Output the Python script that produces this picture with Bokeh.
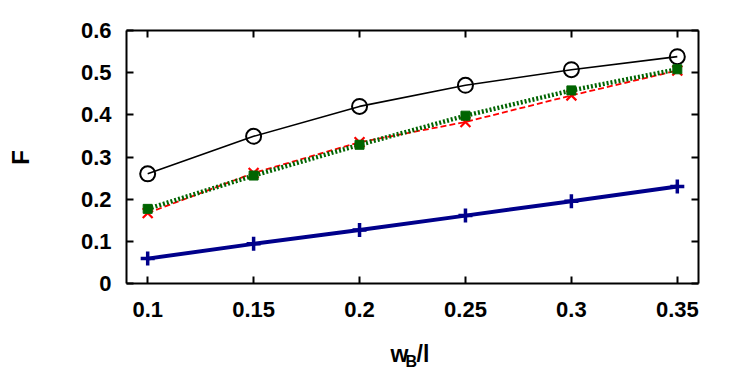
import math
from bokeh.plotting import figure
from bokeh.models import FixedTicker, LinearAxis, Label, Range1d
from bokeh.embed import file_html
from bokeh.resources import INLINE

# ---- data ----
wb = [0.1, 0.15, 0.2, 0.25, 0.3, 0.35]
f_black = [0.260, 0.349, 0.420, 0.470, 0.507, 0.538]
f_red = [0.167, 0.262, 0.335, 0.383, 0.446, 0.505]
f_green = [0.177, 0.256, 0.329, 0.398, 0.458, 0.508]
f_blue = [0.059, 0.094, 0.127, 0.161, 0.195, 0.230]

x_ticks = [0.1, 0.15, 0.2, 0.25, 0.3, 0.35]
x_tick_labels = ["0.1", "0.15", "0.2", "0.25", "0.3", "0.35"]
y_ticks = [0, 0.1, 0.2, 0.3, 0.4, 0.5, 0.6]
y_tick_labels = ["0", "0.1", "0.2", "0.3", "0.4", "0.5", "0.6"]
x_lo, x_hi = 0.09, 0.36
y_lo, y_hi = 0.0, 0.6

FONT = "Liberation Sans"
W, H = 739, 384
# box placement in canvas pixels
BL, BR, BT, BB = 126, 698, 30, 283
sx = (BR - BL) / (x_hi - x_lo)
sy = (BB - BT) / (y_hi - y_lo)

p = figure(width=W, height=H,
           x_range=Range1d(x_lo - BL / sx, x_hi + (W - BR) / sx),
           y_range=Range1d(y_lo - (H - BB) / sy, y_hi + BT / sy),
           output_backend="svg", toolbar_location=None,
           min_border_left=0, min_border_right=0, min_border_top=0, min_border_bottom=0)
p.grid.visible = False
p.outline_line_color = None
p.background_fill_color = "white"
p.border_fill_color = "white"

def style_axis(ax, ticks, labels, bounds, loc):
    ax.ticker = FixedTicker(ticks=ticks)
    ax.major_label_overrides = {t: l for t, l in zip(ticks, labels)}
    ax.bounds = bounds
    ax.fixed_location = loc
    ax.axis_line_color = "black"
    ax.axis_line_width = 2
    ax.major_tick_in = 7
    ax.major_tick_out = 0
    ax.major_tick_line_width = 2
    ax.major_tick_line_color = "black"
    ax.minor_tick_line_color = None
    ax.major_label_text_font = FONT
    ax.major_label_text_font_style = "bold"
    ax.major_label_text_color = "black"
    ax.major_label_text_font_size = "22px"

style_axis(p.xaxis[0], x_ticks, x_tick_labels, (x_lo, x_hi), y_lo)
p.xaxis[0].major_label_standoff = 18
style_axis(p.yaxis[0], y_ticks, y_tick_labels, (y_lo, y_hi), x_lo)
p.yaxis[0].major_label_standoff = 15

top = LinearAxis()
style_axis(top, x_ticks, [""] * len(x_ticks), (x_lo, x_hi), y_hi)
p.add_layout(top, "above")
right = LinearAxis()
style_axis(right, y_ticks, [""] * len(y_ticks), (y_lo, y_hi), x_hi)
p.add_layout(right, "right")

# series
p.line(wb, f_black, line_color="black", line_width=1.6)
p.scatter(wb, f_black, marker="circle", size=15, fill_color=None, line_color="black", line_width=2)

p.line(wb, f_red, line_color="red", line_width=1.8, line_dash="6 3")
p.scatter(wb, f_red, marker="x", size=14, line_color="red", line_width=2.2)

p.line(wb, f_green, line_color="#006400", line_width=4.5, line_dash="2 2")
p.scatter(wb, f_green, marker="square", size=9, fill_color="#006400", line_color="#006400")

p.line(wb, f_blue, line_color="#00008b", line_width=4)
p.scatter(wb, f_blue, marker="cross", size=14, line_color="#00008b", line_width=3.5)

# axis titles (screen units measured from the frame's bottom-left = canvas bottom-left)
def lab(text, x, y, size, **kw):
    p.add_layout(Label(x=x, y=H - y, x_units="screen", y_units="screen",
                       text=text, text_font=FONT, text_font_style="bold", text_color="black",
                       text_font_size=size, **kw))

lab("F", 20, 157, "24px", angle=math.pi / 2, text_align="center", text_baseline="middle")
lab("w", 390, 353, "23px", text_align="left", text_baseline="alphabetic")
lab("B", 405, 361, "16px", text_align="left", text_baseline="alphabetic")
lab("/l", 416, 353, "23px", text_align="left", text_baseline="alphabetic")

open("out.html", "w").write(file_html(p, INLINE))
